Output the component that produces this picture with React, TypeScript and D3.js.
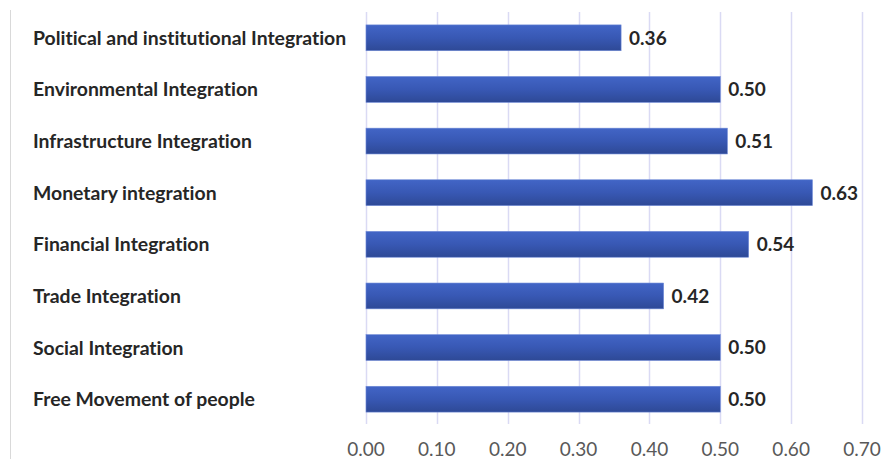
import React from "react";
import * as d3 from "d3";

const categories = [
  "Political and institutional Integration",
  "Environmental Integration",
  "Infrastructure Integration",
  "Monetary integration",
  "Financial Integration",
  "Trade Integration",
  "Social Integration",
  "Free Movement of people",
];
const values = [0.36, 0.5, 0.51, 0.63, 0.54, 0.42, 0.5, 0.5];
const ticks = [0, 0.1, 0.2, 0.3, 0.4, 0.5, 0.6, 0.7];

const W = 893;
const H = 459;

export default function App() {
  const x = d3.scaleLinear().domain([0, 0.7]).range([366, 862]);
  const y = d3.scaleBand().domain(categories).range([12, 425]).paddingInner(0.5).paddingOuter(0.25);
  const font = "Lato, 'Open Sans', sans-serif";
  const textStyle = { fontVariantLigatures: "none" as const };
  return (
    <svg width={W} height={H} style={{ position: "absolute", left: 0, top: 0, background: "#fff" }}>
      <defs>
        <linearGradient id="barGrad" x1="0" y1="0" x2="0" y2="1">
          <stop offset="0" stopColor="#4265c6" />
          <stop offset="0.5" stopColor="#3858b4" />
          <stop offset="1" stopColor="#2e4996" />
        </linearGradient>
      </defs>
      <rect x={0} y={0} width={W} height={H} fill="#fff" />
      <line x1={10.5} x2={10.5} y1={10} y2={H} stroke="#d9d9d9" strokeWidth={1} />
      {ticks.map((t) => (
        <line key={"g" + t} x1={Math.round(x(t)) + 0.5} x2={Math.round(x(t)) + 0.5} y1={12} y2={424} stroke="#dadaf4" strokeWidth={1.5} />
      ))}
      {categories.map((c, i) => {
        const by = y(c)!;
        const bh = y.bandwidth();
        return (
          <g key={c}>
            <rect x={x(0)} y={by} width={x(values[i]) - x(0)} height={bh} fill="url(#barGrad)" stroke="#6d88d6" strokeWidth={0.6} />
            <text x={x(values[i]) + 8} y={by + bh / 2} dy="0.36em" fontFamily={font} fontWeight={700} fontSize={19} fill="#262626" style={textStyle}>
              {values[i].toFixed(2)}
            </text>
            <text x={33} y={by + bh / 2} dy="0.36em" fontFamily={font} fontWeight={700} fontSize={19.4} fill="#262626" style={textStyle}>
              {c}
            </text>
          </g>
        );
      })}
      {ticks.map((t) => (
        <text key={"t" + t} x={x(t)} y={449} dy="0.36em" textAnchor="middle" fontFamily={font} fontSize={19} fill="#595959" style={textStyle}>
          {t.toFixed(2)}
        </text>
      ))}
    </svg>
  );
}
